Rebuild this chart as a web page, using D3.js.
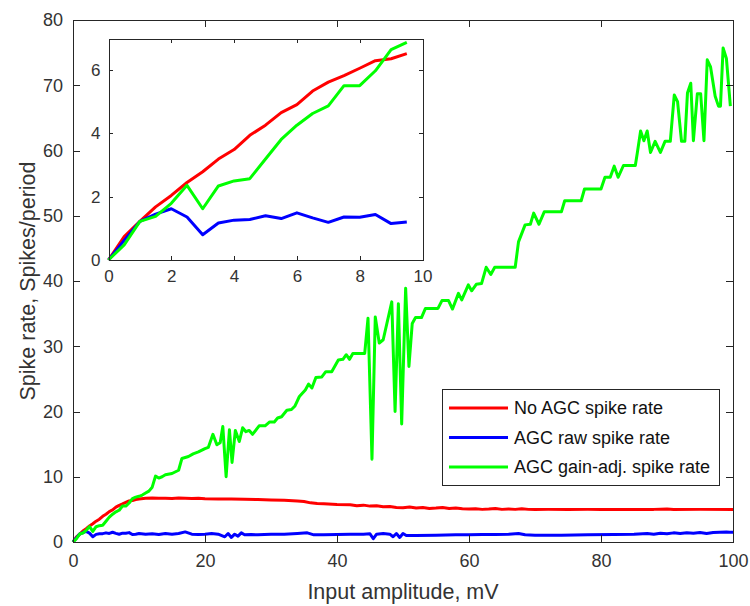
<!DOCTYPE html>
<html>
<head>
<meta charset="utf-8">
<script src="https://cdn.jsdelivr.net/npm/d3@7"></script>
<style>
  body { margin: 0; background: #fff; }
  svg text { font-family: "Liberation Sans", Arial, sans-serif; fill: #333; }
</style>
</head>
<body>
<div id="chart"></div>
<script>
// ---- data ----
var seriesNames = ["No AGC spike rate", "AGC raw spike rate", "AGC gain-adj. spike rate"];
var seriesColors = ["#ff0000", "#0000ff", "#00ff00"];

var xTicks = [0, 20, 40, 60, 80, 100];
var yTicks = [0, 10, 20, 30, 40, 50, 60, 70, 80];
var insetXTicks = [0, 2, 4, 6, 8, 10];
var insetYTicks = [0, 2, 4, 6];

// first 20 samples (0 .. 9.5 mV) - shown in the inset
var lowX = [0, 0.5, 1, 1.5, 2, 2.5, 3, 3.5, 4, 4.5, 5, 5.5, 6, 6.5, 7, 7.5, 8, 8.5, 9, 9.5];
var lowRed = [0, 0.74, 1.22, 1.68, 2.04, 2.45, 2.79, 3.19, 3.49, 3.94, 4.26, 4.66, 4.91, 5.34, 5.62, 5.83, 6.06, 6.30, 6.36, 6.52];
var lowBlue = [0, 0.62, 1.22, 1.45, 1.62, 1.36, 0.80, 1.17, 1.26, 1.28, 1.40, 1.31, 1.49, 1.33, 1.19, 1.36, 1.35, 1.44, 1.15, 1.20];
var lowGreen = [0, 0.48, 1.22, 1.38, 1.79, 2.36, 1.62, 2.34, 2.50, 2.57, 3.19, 3.81, 4.26, 4.63, 4.87, 5.51, 5.51, 5.98, 6.65, 6.88];

// rest of the sweep (10 .. 100 mV)
var redX = [10, 11, 12, 13, 14, 15, 16, 17, 18, 19, 20, 22, 24, 26, 28, 30, 32, 34, 35, 36, 37, 38, 40, 42, 43, 44, 45, 46, 47, 48, 49, 50, 51, 52, 53, 54, 55, 56, 57, 58, 59, 60, 61, 62, 63, 64, 65, 66, 67, 68, 69, 70, 72, 75, 78, 80, 85, 88, 90, 91, 95, 100];
var redY = [6.6, 6.7, 6.75, 6.7, 6.72, 6.68, 6.74, 6.7, 6.68, 6.7, 6.62, 6.6, 6.58, 6.55, 6.5, 6.45, 6.4, 6.3, 6.2, 6.0, 5.9, 5.85, 5.75, 5.7, 5.55, 5.65, 5.5, 5.55, 5.4, 5.45, 5.3, 5.25, 5.35, 5.2, 5.3, 5.15, 5.2, 5.3, 5.15, 5.2, 5.1, 5.05, 5.1, 5.0, 5.05, 5.15, 5.0, 5.05, 5.0, 5.1, 5.0, 4.98, 5.0, 4.98, 5.0, 4.98, 5.0, 5.0, 5.05, 4.98, 5.0, 5.0];

var blueX = [10, 11, 12, 13, 14, 15, 16, 17, 18, 19, 20, 21, 22, 23, 23.5, 24, 24.5, 25, 25.5, 26, 27, 28, 30, 32, 34, 35.5, 36.5, 38, 40, 42, 44, 45, 45.5, 46, 47, 48, 48.5, 49, 49.5, 50, 50.5, 52, 55, 58, 60, 62, 64, 66, 67.5, 68.5, 70, 74, 78, 82, 85, 87, 88, 89, 90, 91, 92, 93, 94, 95, 96, 97, 98, 99, 99.5, 100];
var blueY = [1.3, 1.2, 1.25, 1.15, 1.3, 1.2, 1.3, 1.55, 1.2, 1.15, 1.2, 1.3, 1.2, 0.8, 1.3, 0.7, 1.2, 0.9, 1.4, 1.1, 1.15, 1.1, 1.2, 1.2, 1.3, 1.4, 1.1, 1.1, 1.15, 1.2, 1.2, 1.25, 0.5, 1.2, 1.3, 1.2, 0.8, 1.3, 0.7, 1.3, 1.0, 1.0, 1.05, 1.1, 1.1, 1.15, 1.15, 1.2, 1.3, 1.1, 1.05, 1.05, 1.1, 1.15, 1.2, 1.3, 1.2, 1.35, 1.25, 1.4, 1.3, 1.4, 1.35, 1.45, 1.3, 1.45, 1.5, 1.55, 1.5, 1.5];

var greenX = [10, 10.5, 11, 11.5, 12, 12.5, 13, 13.5, 14, 15, 16, 16.5, 17.5, 18.2, 19, 20, 20.5, 21.2, 21.8, 22.3, 22.7, 23.2, 23.7, 24.1, 24.6, 25.2, 25.7, 26.2, 26.7, 27.2, 28.2, 29.1, 29.8, 30.5, 31, 31.6, 32.4, 33.1, 33.6, 34.3, 35.2, 35.7, 36.2, 36.8, 37.7, 38.3, 39.2, 40.2, 40.9, 41.4, 41.9, 42.4, 44.2, 44.7, 45.3, 45.8, 46.4, 47, 48.3, 48.8, 49.3, 49.8, 50.4, 50.9, 51.4, 51.9, 52.8, 53.4, 55.3, 55.9, 56.9, 57.5, 58.4, 58.9, 59.9, 60.4, 61.1, 61.9, 62.6, 63.3, 63.9, 67, 67.5, 68.5, 69.3, 69.8, 70.6, 71.4, 74, 74.5, 77, 77.5, 80, 80.6, 81.4, 82, 82.6, 83.4, 85.2, 85.5, 86, 86.5, 87, 87.5, 88.2, 89, 89.7, 90.5, 91.1, 91.6, 92.2, 92.7, 93.1, 93.6, 94, 94.6, 95.1, 95.6, 96.1, 96.6, 97.3, 97.8, 98.1, 98.5, 99, 99.6];
var greenY = [7.0, 7.2, 7.5, 7.8, 8.4, 10.1, 9.8, 10.0, 10.3, 10.5, 11.0, 12.8, 13.1, 13.5, 13.8, 14.3, 14.5, 16.5, 14.9, 15.2, 17.7, 10.0, 17.2, 12.2, 17.1, 15.4, 17.5, 16.9, 17.1, 16.5, 17.8, 17.8, 18.4, 18.4, 19.0, 19.2, 20.2, 20.3, 20.8, 22.3, 23.3, 24.2, 23.6, 25.2, 25.3, 26.1, 26.1, 27.9, 28.0, 28.7, 28.0, 28.9, 28.9, 34.3, 12.7, 34.5, 30.5, 31.0, 36.8, 20.0, 36.5, 18.1, 38.9, 26.9, 33.5, 34.4, 34.4, 35.8, 35.8, 37.0, 37.0, 35.7, 38.1, 37.1, 39.4, 38.5, 39.5, 39.6, 42.1, 41.0, 42.1, 42.1, 46.0, 48.6, 48.7, 50.4, 48.7, 50.6, 50.6, 52.3, 52.3, 54.1, 54.1, 55.9, 55.9, 57.6, 55.9, 57.7, 57.7, 59.6, 63.0, 61.5, 63.0, 59.7, 61.4, 59.7, 61.4, 61.4, 68.5, 67.5, 61.4, 61.4, 68.8, 70.3, 61.5, 68.7, 68.7, 61.5, 73.9, 72.8, 68.3, 66.8, 66.8, 75.7, 74.1, 66.8];

// ---- build point lists ----
function pts(xs, ys) { return xs.map(function(d, i) { return {x: d, y: ys[i]}; }); }
var lowSets = [pts(lowX, lowRed), pts(lowX, lowBlue), pts(lowX, lowGreen)];
var fullSets = [
  lowSets[0].concat(pts(redX, redY)),
  lowSets[1].concat(pts(blueX, blueY)),
  lowSets[2].concat(pts(greenX, greenY))
];

var width = 750, height = 606;
var axisColor = "#262626";

var svg = d3.select("#chart").append("svg")
    .attr("width", width)
    .attr("height", height);

// ---- main axes ----
var xScale = d3.scaleLinear().domain([0, 100]).range([73, 733]);
var yScale = d3.scaleLinear().domain([0, 80]).range([542, 20]);

var line = d3.line()
  .x(function(d) { return xScale(d.x); })
  .y(function(d) { return yScale(d.y); });

svg.append("rect")
  .attr("x", xScale(0)).attr("y", yScale(80))
  .attr("width", xScale(100) - xScale(0))
  .attr("height", yScale(0) - yScale(80))
  .style("fill", "#fff");

for (var i = 0; i < fullSets.length; i++) {
  svg.append("path")
    .datum(fullSets[i])
    .attr("d", line)
    .style("fill", "none")
    .style("stroke", seriesColors[i])
    .style("stroke-width", 3)
    .style("stroke-linejoin", "round");
}

function styleAxis(g, fs) {
  g.selectAll("path, line").style("stroke", axisColor).style("shape-rendering", "crispEdges");
  g.selectAll("text").style("font-size", fs + "px").style("fill", "#333")
    .style("font-family", "'Liberation Sans', Arial, sans-serif");
}

var fmt = d3.format("d");

svg.append("g")
  .attr("transform", "translate(0," + yScale(0) + ")")
  .call(d3.axisBottom(xScale).tickValues(xTicks).tickFormat(fmt).tickSizeInner(-7).tickSizeOuter(0).tickPadding(12))
  .call(styleAxis, 18);
svg.append("g")
  .attr("transform", "translate(0," + yScale(80) + ")")
  .call(d3.axisTop(xScale).tickValues(xTicks).tickSizeInner(-7).tickSizeOuter(0).tickFormat(""))
  .call(styleAxis, 18);
svg.append("g")
  .attr("transform", "translate(" + xScale(0) + ",0)")
  .call(d3.axisLeft(yScale).tickValues(yTicks).tickFormat(fmt).tickSizeInner(-7).tickSizeOuter(0).tickPadding(10))
  .call(styleAxis, 18);
svg.append("g")
  .attr("transform", "translate(" + xScale(100) + ",0)")
  .call(d3.axisRight(yScale).tickValues(yTicks).tickSizeInner(-7).tickSizeOuter(0).tickFormat(""))
  .call(styleAxis, 18);

svg.append("text")
  .attr("text-anchor", "middle")
  .attr("x", (xScale(0) + xScale(100)) / 2)
  .attr("y", 599)
  .style("font-size", "21.5px")
  .text("Input amplitude, mV");

svg.append("text")
  .attr("text-anchor", "middle")
  .attr("transform", "rotate(-90)")
  .attr("x", -(yScale(0) + yScale(80)) / 2)
  .attr("y", 35)
  .style("font-size", "21.5px")
  .text("Spike rate, Spikes/period");

// ---- legend ----
var legend = svg.append("g");
legend.append("rect")
  .attr("x", 442.5).attr("y", 389.5)
  .attr("width", 277).attr("height", 96)
  .style("fill", "#fff")
  .style("stroke", axisColor)
  .style("stroke-width", 1);

legend.selectAll(".legLine")
  .data(seriesNames)
  .enter()
  .append("line")
  .attr("class", "legLine")
  .attr("x1", 449).attr("x2", 508)
  .attr("y1", function(d, i) { return 408 + i * 29.5; })
  .attr("y2", function(d, i) { return 408 + i * 29.5; })
  .style("stroke", function(d, i) { return seriesColors[i]; })
  .style("stroke-width", 3);

legend.selectAll(".legText")
  .data(seriesNames)
  .enter()
  .append("text")
  .attr("class", "legText")
  .attr("x", 514)
  .attr("y", function(d, i) { return 408 + i * 29.5; })
  .attr("dy", "0.35em")
  .style("font-size", "18px")
  .style("fill", "#111")
  .text(function(d) { return d; });

// ---- inset ----
var ix = d3.scaleLinear().domain([0, 10]).range([108.5, 422.5]);
var iy = d3.scaleLinear().domain([0, 7]).range([260, 38.5]);

var insetLine = d3.line()
  .x(function(d) { return ix(d.x); })
  .y(function(d) { return iy(d.y); });

svg.append("rect")
  .attr("x", ix(0)).attr("y", iy(7))
  .attr("width", ix(10) - ix(0))
  .attr("height", iy(0) - iy(7))
  .style("fill", "#fff");

for (var j = 0; j < lowSets.length; j++) {
  svg.append("path")
    .datum(lowSets[j])
    .attr("d", insetLine)
    .style("fill", "none")
    .style("stroke", seriesColors[j])
    .style("stroke-width", 3)
    .style("stroke-linejoin", "round");
}

svg.append("g")
  .attr("transform", "translate(0," + iy(0) + ")")
  .call(d3.axisBottom(ix).tickValues(insetXTicks).tickFormat(fmt).tickSizeInner(-4).tickSizeOuter(0).tickPadding(10))
  .call(styleAxis, 17);
svg.append("g")
  .attr("transform", "translate(0," + iy(7) + ")")
  .call(d3.axisTop(ix).tickValues(insetXTicks).tickSizeInner(-4).tickSizeOuter(0).tickFormat(""))
  .call(styleAxis, 17);
svg.append("g")
  .attr("transform", "translate(" + ix(0) + ",0)")
  .call(d3.axisLeft(iy).tickValues(insetYTicks).tickFormat(fmt).tickSizeInner(-4).tickSizeOuter(0).tickPadding(8))
  .call(styleAxis, 17);
svg.append("g")
  .attr("transform", "translate(" + ix(10) + ",0)")
  .call(d3.axisRight(iy).tickValues(insetYTicks).tickSizeInner(-4).tickSizeOuter(0).tickFormat(""))
  .call(styleAxis, 17);
</script>
</body>
</html>
